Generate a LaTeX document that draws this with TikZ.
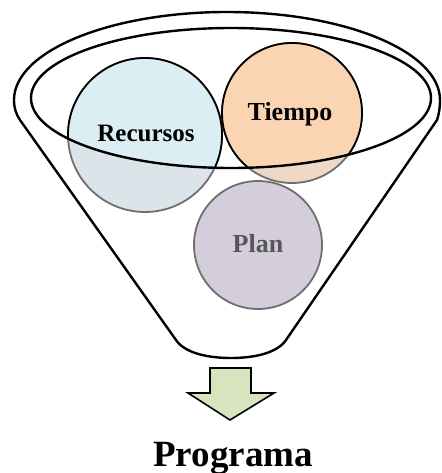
\documentclass[tikz,border=0pt]{standalone}
\usepackage{fontspec}
\setmainfont{Liberation Serif}
\definecolor{recTop}{HTML}{DAEEF3}
\definecolor{recLow}{HTML}{DBE5E9}
\definecolor{tieTop}{HTML}{FBD4B4}
\definecolor{tieLow}{HTML}{EFD8C6}
\definecolor{planFill}{HTML}{D4CEDC}
\definecolor{dimLine}{HTML}{6E6E6E}
\definecolor{dimText}{HTML}{575757}
\definecolor{arrowFill}{HTML}{D7E4BD}
\begin{document}
\begin{tikzpicture}[x=1pt,y=-1pt,
  funnelline/.style={draw=black,line width=2.4pt,line join=round},
  ballline/.style={line width=1.8pt},
  label/.style={font=\bfseries,inner sep=0pt,anchor=base}]
\useasboundingbox (0,0) rectangle (441,473);

% balls, seen through the funnel body
\node[circle,inner sep=0pt,minimum size=154pt,fill=recLow,draw=dimLine,ballline] (rec) at (145,135) {};
\node[circle,inner sep=0pt,minimum size=140pt,fill=tieLow,draw=dimLine,ballline] (tie) at (292,113) {};
\node[circle,inner sep=0pt,minimum size=128pt,fill=planFill,draw=dimLine,ballline] (plan) at (258,245) {};

% parts of the balls inside the funnel mouth
\begin{scope}
  \clip (231,98) ellipse [x radius=200, y radius=70];
  \filldraw[fill=recTop,draw=black,ballline] (rec.center) circle [radius=77];
  \filldraw[fill=tieTop,draw=black,ballline] (tie.center) circle [radius=70];
\end{scope}

% funnel mouth
\coordinate (mouth) at (231,98);
\draw[funnelline] (mouth) ellipse [x radius=200, y radius=70];

% funnel body
\coordinate (rimL) at (14,100);
\draw[funnelline] (rimL) arc [start angle=180, end angle=360, x radius=213, y radius=88]
  .. controls (440,108) and (439,114) .. (437,120)
  -- (286,340)
  .. controls (278,352) and (257,358) .. (231,358)
  .. controls (205,358) and (184,352) .. (176,340)
  -- (20,120)
  .. controls (16,114) and (14,108) .. (rimL) -- cycle;

% labels
\node[label,font=\fontsize{25}{28}\selectfont\bfseries] at (146,142) {Recursos};
\node[label,font=\fontsize{26}{28}\selectfont\bfseries] at (290,121) {Tiempo};
\node[label,font=\fontsize{26}{28}\selectfont\bfseries,text=dimText] at (258,252) {Plan};

% output arrow
\filldraw[fill=arrowFill,draw=black,line width=1.6pt,line join=miter]
  (210,368) -- (251,368) -- (251,393) -- (274,393) -- (230,420)
  -- (188,393) -- (210,393) -- cycle;
\coordinate (arrowtip) at (230,420);

\node[label,font=\fontsize{37}{40}\selectfont\bfseries] (out) at (233,466) {Programa};
\end{tikzpicture}
\end{document}
